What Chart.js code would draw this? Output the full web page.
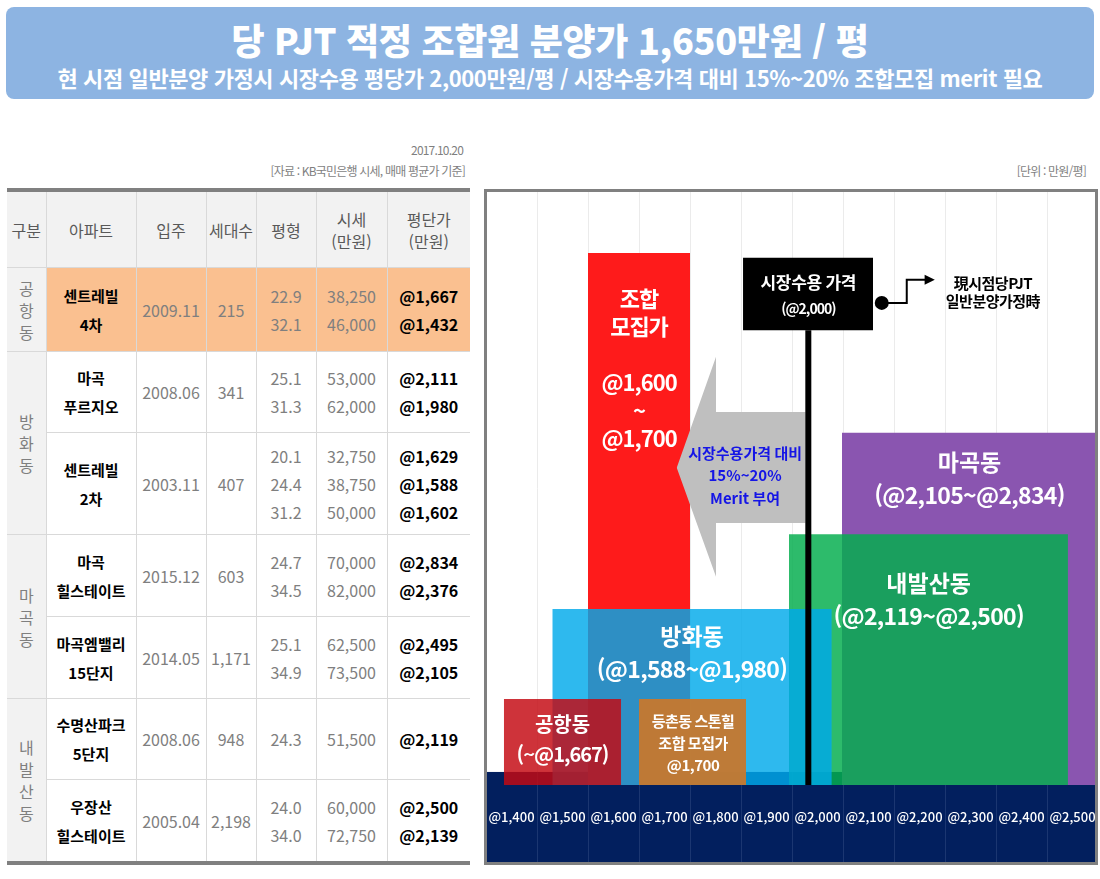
<!DOCTYPE html>
<html lang="ko">
<head>
<meta charset="utf-8">
<title>당 PJT 적정 조합원 분양가</title>
<script src="https://cdn.jsdelivr.net/npm/chart.js@4.4.0/dist/chart.umd.min.js"></script>
<style>
  body { margin: 0; width: 1100px; height: 879px; background: #fff; position: relative; overflow: hidden;
         font-family: 'Noto Sans CJK KR', 'Noto Sans', sans-serif; }
  .banner { position: absolute; left: 6px; top: 7px; width: 1088px; height: 92px; background: #8db4e2;
            border-radius: 8px; color: #fff; text-align: center; }
  .banner h1 { position: absolute; left: 0; right: 0; top: 11px; margin: 0; font-size: 36px; line-height: 42px; font-weight: 900; letter-spacing: -0.3px; }
  .banner p { position: absolute; left: 0; right: 0; top: 56px; margin: 0; font-size: 22px; line-height: 28px; font-weight: bold; letter-spacing: -0.4px; }
  .note { position: absolute; color: #7f7f7f; font-size: 12px; line-height: 16px; letter-spacing: -0.8px; white-space: nowrap; }
  #apt-table { position: absolute; left: 7px; top: 188px; width: 463px; border-collapse: collapse; table-layout: fixed;
               border-top: 4px solid #808080; border-bottom: 4px solid #808080; }
  #apt-table th, #apt-table td { border: 1px solid #d9d9d9; text-align: center; padding: 0; }
  #apt-table tr > :first-child { border-left: none; }
  #apt-table tr > :last-child { border-right: none; }
  #apt-table th { background: #f2f2f2; color: #595959; font-weight: normal; font-size: 16px; line-height: 22px; height: 75px; }
  #apt-table td.group { background: #f2f2f2; color: #7f7f7f; font-size: 16px; line-height: 22px; }
  #apt-table td.name { font-weight: bold; font-size: 15px; line-height: 29px; color: #000; }
  #apt-table td.num { color: #7f7f7f; font-size: 16px; line-height: 28px; }
  #apt-table td.unit { color: #000; font-weight: bold; font-size: 16px; line-height: 28px; }
  #apt-table tr.hl td:not(.group) { background: #fac090; }
  .frame { position: absolute; left: 484px; top: 189px; width: 614px; height: 676px; box-sizing: border-box;
           border: 3px solid #808080; pointer-events: none; }
  #chart { position: absolute; left: 486px; top: 192px; }
</style>
</head>
<body>
<div class="banner">
  <h1>당 PJT 적정 조합원 분양가 1,650만원 / 평</h1>
  <p>현 시점 일반분양 가정시 시장수용 평당가 2,000만원/평 / 시장수용가격 대비 15%~20% 조합모집 merit 필요</p>
</div>
<div class="note" style="right:637px; top:142px;">2017.10.20</div>
<div class="note" style="right:635px; top:163px;">[자료 : KB국민은행 시세, 매매 평균가 기준]</div>
<div class="note" style="right:14px; top:163px;">[단위 : 만원/평]</div>

<table id="apt-table">
  <colgroup>
    <col style="width:39px"><col style="width:90px"><col style="width:70px"><col style="width:50px">
    <col style="width:60px"><col style="width:71px"><col style="width:83px">
  </colgroup>
  <thead>
    <tr><th>구분</th><th>아파트</th><th>입주</th><th>세대수</th><th>평형</th><th>시세<br>(만원)</th><th>평단가<br>(만원)</th></tr>
  </thead>
  <tbody id="apt-body"></tbody>
</table>

<canvas id="chart" width="612" height="670"></canvas>
<div class="frame"></div>

<script>
// ---- table data ----
const tableGroups = ['공항동', '방화동', '마곡동', '내발산동'];
const groupSizes = [1, 2, 2, 2];
const aptNames = ['센트레빌<br>4차', '마곡<br>푸르지오', '센트레빌<br>2차', '마곡<br>힐스테이트', '마곡엠밸리<br>15단지', '수명산파크<br>5단지', '우장산<br>힐스테이트'];
const moveIn = ['2009.11', '2008.06', '2003.11', '2015.12', '2014.05', '2008.06', '2005.04'];
const households = ['215', '341', '407', '603', '1,171', '948', '2,198'];
const pyeong = [['22.9', '32.1'], ['25.1', '31.3'], ['20.1', '24.4', '31.2'], ['24.7', '34.5'], ['25.1', '34.9'], ['24.3'], ['24.0', '34.0']];
const marketPrice = [['38,250', '46,000'], ['53,000', '62,000'], ['32,750', '38,750', '50,000'], ['70,000', '82,000'], ['62,500', '73,500'], ['51,500'], ['60,000', '72,750']];
const pricePerPyeong = [['@1,667', '@1,432'], ['@2,111', '@1,980'], ['@1,629', '@1,588', '@1,602'], ['@2,834', '@2,376'], ['@2,495', '@2,105'], ['@2,119'], ['@2,500', '@2,139']];

// ---- chart data (x: 만원/평) ----
const xTickValues = [1400, 1500, 1600, 1700, 1800, 1900, 2000, 2100, 2200, 2300, 2400, 2500];
const gridValues = [1350, 1450, 1550, 1650, 1750, 1850, 1950, 2050, 2150, 2250, 2350, 2450, 2550];

// price bands, in paint order (bottom first)
const bandNames = ['마곡동', '내발산동', '조합 모집가', '방화동', '공항동', '등촌동 스톤힐'];
const bandFrom = [2048, 1944, 1550, 1480, 1385, 1650];
const bandTo = [2550, 2491, 1750, 2028, 1615, 1860];
const bandLevel = [59.4, 42.3, 89.7, 29.7, 14.5, 14.5];

// market price marker (drawn where the source puts it, just left of @2,000)
const marketPriceX = 1982;
const markerBoxX = [1854, 2109];
const markerBoxBottom = [76.7, 76.7];
const markerBoxTop = [88.9, 88.9];

// merit arrow outline
const arrowX = [1724, 1801, 1801, 1977];
const arrowUpper = [53.5, 72.2, 62.9, 62.9];
const arrowLower = [53.5, 35.1, 44.2, 44.2];

const bandColors = ['#8a55b0', 'rgba(5,174,79,0.84)', '#fe1b1b', 'rgba(0,170,234,0.82)', 'rgba(196,10,18,0.83)', 'rgba(200,120,45,0.94)'];

// ---- table ----
function buildTable() {
    const body = document.getElementById('apt-body');
    const rowHeights = [83, 80, 101, 81, 81, 80, 81];
    let row = 0;
    tableGroups.forEach((group, g) => {
        for (let k = 0; k < groupSizes[g]; k++) {
            const tr = document.createElement('tr');
            if (row === 0) tr.className = 'hl';
            let html = '';
            if (k === 0) {
                html += `<td class="group" rowspan="${groupSizes[g]}">${group.split('').join('<br>')}</td>`;
            }
            html += `
                <td class="name" style="height:${rowHeights[row]}px">${aptNames[row]}</td>
                <td class="num">${moveIn[row]}</td>
                <td class="num">${households[row]}</td>
                <td class="num">${pyeong[row].join('<br>')}</td>
                <td class="num">${marketPrice[row].join('<br>')}</td>
                <td class="unit">${pricePerPyeong[row].join('<br>')}</td>
            `;
            tr.innerHTML = html;
            body.appendChild(tr);
            row++;
        }
    });
}

// ---- chart helpers ----
function rectPoints(from, to, level) {
    return [{ x: from, y: 0 }, { x: from, y: level }, { x: to, y: level }, { x: to, y: 0 }];
}

function linePoints(xs, ys) {
    return xs.map((x, i) => ({ x: x, y: ys[i] }));
}

const BAND_TOP = 2.2; // navy axis band reaches a bit above the baseline
const KR = "'Noto Sans CJK KR', sans-serif";

const labelBlocks = [
    { x: 1650, y: 82.1, lh: 28, font: `bold 22px ${KR}`, color: '#fff', spacing: '-1px', lines: ['조합', '모집가', '', '@1,600', '~', '@1,700'] },
    { x: 1754, y: 25.1, lh: 0, font: `bold 23px ${KR}`, color: '#fff', lines: ['방화동'] },
    { x: 1754, y: 19.6, lh: 0, font: `bold 23px ${KR}`, color: '#fff', spacing: '-0.7px', lines: ['(@1,588~@1,980)'] },
    { x: 2298, y: 54.5, lh: 0, font: `bold 23px ${KR}`, color: '#fff', lines: ['마곡동'] },
    { x: 2298, y: 48.9, lh: 0, font: `bold 23px ${KR}`, color: '#fff', spacing: '-0.7px', lines: ['(@2,105~@2,834)'] },
    { x: 2218, y: 34.1, lh: 0, font: `bold 23px ${KR}`, color: '#fff', lines: ['내발산동'] },
    { x: 2218, y: 28.5, lh: 0, font: `bold 23px ${KR}`, color: '#fff', spacing: '-0.7px', lines: ['(@2,119~@2,500)'] },
    { x: 1500, y: 10.3, lh: 0, font: `bold 20px ${KR}`, color: '#fff', lines: ['공항동'] },
    { x: 1500, y: 5.2, lh: 0, font: `bold 20px ${KR}`, color: '#fff', spacing: '-1px', lines: ['(~@1,667)'] },
    { x: 1756, y: 10.8, lh: 22, font: `bold 15px ${KR}`, color: '#fff', spacing: '-0.5px', lines: ['등촌동 스톤힐', '조합 모집가', '@1,700'] },
    { x: 1858, y: 56.0, lh: 22.5, font: `bold 15px ${KR}`, color: '#1515e6', lines: ['시장수용가격 대비', '15%~20%', 'Merit 부여'] },
    { x: 1982, y: 84.65, lh: 0, font: `bold 17px ${KR}`, color: '#fff', spacing: '-0.3px', lines: ['시장수용 가격'] },
    { x: 1982, y: 80.3, lh: 0, font: `bold 14px ${KR}`, color: '#fff', spacing: '-1px', lines: ['(@2,000)'] },
    { x: 2344, y: 84.65, lh: 18, font: `bold 15px ${KR}`, color: '#000', spacing: '-0.5px', lines: ['現시점당PJT', '일반분양가정時'] }
];

// callout from the marker box: dot, elbow, arrow head
const calloutX = [2126, 2175, 2175, 2214];
const calloutY = [81.3, 81.3, 85.2, 85.2];
const calloutTipX = 2230;

const navyBand = {
    id: 'navyBand',
    beforeDatasetsDraw(chart) {
        const { ctx, chartArea, scales } = chart;
        const top = scales.y.getPixelForValue(BAND_TOP);
        ctx.save();
        ctx.fillStyle = '#021f5e';
        ctx.fillRect(chartArea.left, top, chartArea.right - chartArea.left, chart.height - top);
        ctx.strokeStyle = '#1b3671';
        ctx.lineWidth = 1;
        gridValues.forEach(v => {
            const px = Math.round(scales.x.getPixelForValue(v)) + 0.5;
            ctx.beginPath();
            ctx.moveTo(px, top);
            ctx.lineTo(px, chart.height);
            ctx.stroke();
        });
        ctx.restore();
    }
};

const textLabels = {
    id: 'textLabels',
    afterDatasetsDraw(chart) {
        const { ctx, scales: { x, y } } = chart;
        ctx.save();
        ctx.textAlign = 'center';
        ctx.textBaseline = 'middle';
        labelBlocks.forEach(b => {
            ctx.font = b.font;
            ctx.fillStyle = b.color;
            ctx.letterSpacing = b.spacing || '0px';
            const px = x.getPixelForValue(b.x);
            const py = y.getPixelForValue(b.y);
            b.lines.forEach((line, i) => ctx.fillText(line, px, py + i * b.lh));
        });

        // callout
        ctx.strokeStyle = '#000';
        ctx.fillStyle = '#000';
        ctx.lineWidth = 2;
        ctx.beginPath();
        calloutX.forEach((v, i) => {
            const px = x.getPixelForValue(v);
            const py = y.getPixelForValue(calloutY[i]);
            if (i === 0) ctx.moveTo(px, py); else ctx.lineTo(px, py);
        });
        ctx.stroke();
        const tipX = x.getPixelForValue(calloutTipX);
        const tipY = y.getPixelForValue(calloutY[3]);
        const baseX = x.getPixelForValue(calloutX[3]);
        ctx.beginPath();
        ctx.moveTo(tipX, tipY);
        ctx.lineTo(baseX - 2, tipY - 5);
        ctx.lineTo(baseX - 2, tipY + 5);
        ctx.closePath();
        ctx.fill();
        ctx.beginPath();
        ctx.arc(x.getPixelForValue(calloutX[0]), y.getPixelForValue(calloutY[0]), 7, 0, Math.PI * 2);
        ctx.fill();
        ctx.restore();
    }
};

function buildDatasets() {
    const common = { pointRadius: 0, borderWidth: 0, borderColor: 'transparent', tension: 0 };
    const sets = [];
    bandNames.forEach((name, i) => {
        sets.push({ ...common, label: name, data: rectPoints(bandFrom[i], bandTo[i], bandLevel[i]),
                    fill: 'origin', backgroundColor: bandColors[i] });
    });
    const arrowLowerIndex = sets.length;
    sets.push({ ...common, label: 'arrow-lower', data: linePoints(arrowX, arrowLower), fill: false });
    sets.push({ ...common, label: 'merit', data: linePoints(arrowX, arrowUpper), fill: arrowLowerIndex, backgroundColor: '#bfbfbf' });
    sets.push({ ...common, label: '시장수용 가격', data: [{ x: marketPriceX, y: 0 }, { x: marketPriceX, y: markerBoxBottom[0] }],
                borderWidth: 6, borderColor: '#000', fill: false });
    const boxLowerIndex = sets.length;
    sets.push({ ...common, label: 'box-lower', data: linePoints(markerBoxX, markerBoxBottom), fill: false });
    sets.push({ ...common, label: 'box-upper', data: linePoints(markerBoxX, markerBoxTop), fill: boxLowerIndex, backgroundColor: '#000' });
    // Chart.js paints higher "order" first, so the first set ends at the bottom
    sets.forEach((s, i) => { s.order = sets.length - i; });
    return sets;
}

function drawChart() {
    const ctx = document.getElementById('chart').getContext('2d');
    new Chart(ctx, {
        type: 'line',
        data: { datasets: buildDatasets() },
        options: {
            responsive: false,
            animation: false,
            layout: { padding: 0 },
            plugins: { legend: { display: false }, tooltip: { enabled: false } },
            scales: {
                x: {
                    type: 'linear', position: 'bottom', min: 1350, max: 2550,
                    afterBuildTicks: axis => { axis.ticks = xTickValues.map(v => ({ value: v })); },
                    afterFit: axis => {
                        axis.height = 77;
                        // labels sit inside the columns, no edge padding needed
                        axis.paddingLeft = 0;
                        axis.paddingRight = 0;
                    },
                    grid: { display: false },
                    border: { display: false },
                    ticks: {
                        color: '#fff', padding: 16, z: 1, autoSkip: false, maxRotation: 0, minRotation: 0,
                        font: { family: KR, size: 13, weight: 500 },
                        callback: v => '@' + v.toLocaleString('en-US')
                    }
                },
                xg: {
                    type: 'linear', position: 'bottom', min: 1350, max: 2550,
                    afterBuildTicks: axis => { axis.ticks = gridValues.map(v => ({ value: v })); },
                    afterFit: axis => { axis.height = 0; axis.paddingLeft = 0; axis.paddingRight = 0; },
                    grid: { color: '#ebebeb', drawTicks: false },
                    border: { display: false },
                    ticks: { display: false }
                },
                y: { display: false, min: 0, max: 100 }
            }
        },
        plugins: [navyBand, textLabels]
    });
}

document.addEventListener('DOMContentLoaded', () => {
    buildTable();
    drawChart();
});
</script>
</body>
</html>
